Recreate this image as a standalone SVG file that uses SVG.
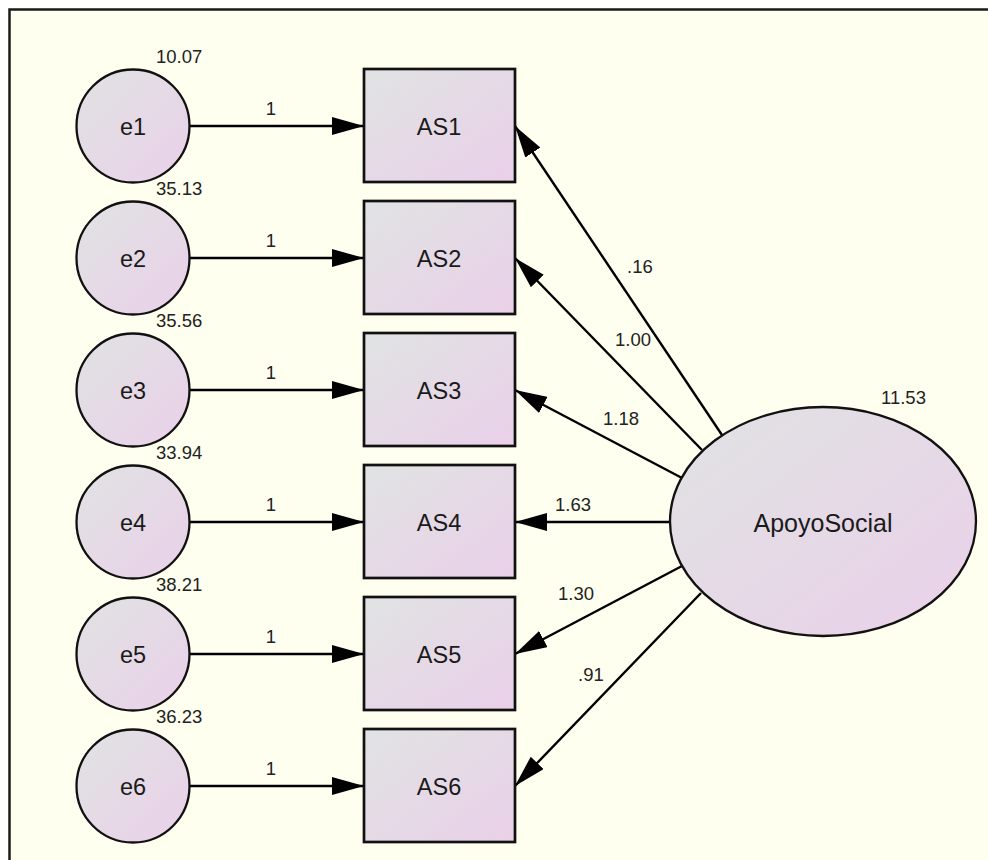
<svg xmlns="http://www.w3.org/2000/svg" width="988" height="860" viewBox="0 0 988 860">
  <defs>
    <linearGradient id="nodeFill" x1="0" y1="0" x2="1" y2="1">
      <stop offset="0" stop-color="#e0e3e3"/>
      <stop offset="1" stop-color="#ead0e9"/>
    </linearGradient>
    <marker id="head" markerUnits="userSpaceOnUse" markerWidth="32" markerHeight="18" refX="32" refY="9" orient="auto">
      <path d="M0,0 L32,9 L0,18 Z" fill="#000"/>
    </marker>
    <style>
      .err { fill: url(#nodeFill); stroke: #111; stroke-width: 2.3; }
      .obs { fill: url(#nodeFill); stroke: #111; stroke-width: 2.7; }
      .lat { fill: url(#nodeFill); stroke: #111; stroke-width: 2.3; }
      .name { font-family: "Liberation Sans", Arial, sans-serif; font-size: 23.5px; fill: #1a1a1a; text-anchor: middle; }
      .num { font-family: "Liberation Sans", Arial, sans-serif; font-size: 18.5px; fill: #222; }
      .path { stroke: #000; stroke-width: 2.4; fill: none; marker-end: url(#head); }
    </style>
  </defs>

  <!-- canvas and frame -->
  <rect x="0" y="0" width="988" height="860" fill="#ffffff"/>
  <rect x="9" y="9" width="979" height="851" fill="#fffff0"/>
  <path d="M9.5,860 V9.5 H988" fill="none" stroke="#1a1a1a" stroke-width="2.5"/>

  <!-- connectors -->
  <g id="connectors">
    <line class="path" x1="190" y1="126" x2="364" y2="126"/>
    <line class="path" x1="190" y1="258" x2="364" y2="258"/>
    <line class="path" x1="190" y1="390" x2="364" y2="390"/>
    <line class="path" x1="190" y1="522" x2="364" y2="522"/>
    <line class="path" x1="190" y1="654" x2="364" y2="654"/>
    <line class="path" x1="190" y1="786" x2="364" y2="786"/>

    <line class="path" x1="722" y1="435" x2="515" y2="126"/>
    <line class="path" x1="702" y1="450" x2="515" y2="258"/>
    <line class="path" x1="682" y1="478" x2="515" y2="390"/>
    <line class="path" x1="670" y1="522" x2="515" y2="522"/>
    <line class="path" x1="682" y1="566" x2="515" y2="654"/>
    <line class="path" x1="701" y1="593" x2="515" y2="786"/>

    <g class="num" text-anchor="middle">
      <text x="271" y="115">1</text>
      <text x="271" y="247">1</text>
      <text x="271" y="379">1</text>
      <text x="271" y="511">1</text>
      <text x="271" y="643">1</text>
      <text x="271" y="775">1</text>
    </g>
    <g class="num">
      <text x="627" y="273">.16</text>
      <text x="615" y="346">1.00</text>
      <text x="603" y="425">1.18</text>
      <text x="555" y="511">1.63</text>
      <text x="558" y="600">1.30</text>
      <text x="578" y="681">.91</text>
    </g>
  </g>

  <!-- error terms -->
  <g id="e1"><circle class="err" cx="133" cy="126" r="56.5"/><text class="name" x="133" y="135">e1</text><text class="num" x="156" y="63">10.07</text></g>
  <g id="e2"><circle class="err" cx="133" cy="258" r="56.5"/><text class="name" x="133" y="267">e2</text><text class="num" x="156" y="195">35.13</text></g>
  <g id="e3"><circle class="err" cx="133" cy="390" r="56.5"/><text class="name" x="133" y="399">e3</text><text class="num" x="156" y="327">35.56</text></g>
  <g id="e4"><circle class="err" cx="133" cy="522" r="56.5"/><text class="name" x="133" y="531">e4</text><text class="num" x="156" y="459">33.94</text></g>
  <g id="e5"><circle class="err" cx="133" cy="654" r="56.5"/><text class="name" x="133" y="663">e5</text><text class="num" x="156" y="591">38.21</text></g>
  <g id="e6"><circle class="err" cx="133" cy="786" r="56.5"/><text class="name" x="133" y="795">e6</text><text class="num" x="156" y="723">36.23</text></g>

  <!-- observed indicators -->
  <g id="AS1"><rect class="obs" x="364" y="69" width="151" height="113"/><text class="name" x="439" y="135">AS1</text></g>
  <g id="AS2"><rect class="obs" x="364" y="201" width="151" height="113"/><text class="name" x="439" y="267">AS2</text></g>
  <g id="AS3"><rect class="obs" x="364" y="333" width="151" height="113"/><text class="name" x="439" y="399">AS3</text></g>
  <g id="AS4"><rect class="obs" x="364" y="465" width="151" height="113"/><text class="name" x="439" y="531">AS4</text></g>
  <g id="AS5"><rect class="obs" x="364" y="597" width="151" height="113"/><text class="name" x="439" y="663">AS5</text></g>
  <g id="AS6"><rect class="obs" x="364" y="729" width="151" height="113"/><text class="name" x="439" y="795">AS6</text></g>

  <!-- latent factor -->
  <g id="ApoyoSocial">
    <ellipse class="lat" cx="823" cy="521.5" rx="153" ry="114.5"/>
    <text class="name" x="823" y="532" style="font-size:25px">ApoyoSocial</text>
    <text class="num" x="881" y="404">11.53</text>
  </g>
</svg>
